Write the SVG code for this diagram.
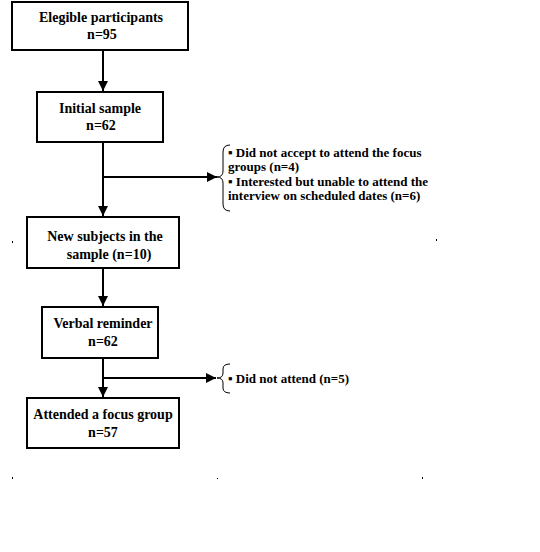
<svg xmlns="http://www.w3.org/2000/svg" width="540" height="552" viewBox="0 0 540 552">
<style>
.box{fill:#fff;stroke:#000;stroke-width:2}
.t{font-family:"Liberation Serif","Times New Roman",serif;font-weight:bold;font-size:14px;fill:#000;text-anchor:middle}
.s{font-family:"Liberation Serif","Times New Roman",serif;font-weight:bold;font-size:13px;fill:#000}
.ln{stroke:#000;stroke-width:2;fill:none}
.br{stroke:#000;stroke-width:1;fill:none}
</style>
<defs>
<marker id="ah" viewBox="0 0 10 10" refX="10" refY="5" markerWidth="5" markerHeight="5" orient="auto" markerUnits="strokeWidth">
<path d="M0,0 L10,5 L0,10 z" fill="#000"/>
</marker>
</defs>
<rect width="540" height="552" fill="#fff"/>
<g id="connectors">
<line class="ln" x1="103" y1="51" x2="103" y2="91" marker-end="url(#ah)"/>
<line class="ln" x1="103" y1="142" x2="103" y2="216" marker-end="url(#ah)"/>
<line class="ln" x1="103" y1="177" x2="217" y2="177" marker-end="url(#ah)"/>
<line class="ln" x1="103" y1="268" x2="103" y2="306" marker-end="url(#ah)"/>
<line class="ln" x1="103" y1="358" x2="103" y2="397" marker-end="url(#ah)"/>
<line class="ln" x1="103" y1="378" x2="216" y2="378" marker-end="url(#ah)"/>
</g>
<g id="n1"><rect class="box" x="12" y="2" width="176" height="48"/><text class="t" x="101" y="22">Elegible participants</text><text class="t" x="102" y="39">n=95</text></g>
<g id="n2"><rect class="box" x="37" y="92" width="126" height="50"/><text class="t" x="100" y="113">Initial sample</text><text class="t" x="101" y="130">n=62</text></g>
<g id="n3"><rect class="box" x="27" y="217" width="152" height="51"/><text class="t" x="105" y="241">New subjects in the</text><text class="t" x="109" y="259">sample (n=10)</text></g>
<g id="n4"><rect class="box" x="42" y="307" width="116" height="51"/><text class="t" x="103" y="328">Verbal reminder</text><text class="t" x="103" y="346">n=62</text></g>
<g id="n5"><rect class="box" x="27" y="398" width="152" height="50"/><text class="t" x="103" y="419">Attended a focus group</text><text class="t" x="103" y="437">n=57</text></g>
<g id="e1">
<path class="br" d="M230,145 Q223,145 223,152 L223,171 Q223,177 217,177 Q223,177 223,183 L223,204 Q223,211 230,211"/>
<text class="s" x="228" y="157">▪ Did not accept to attend the focus</text>
<text class="s" x="228" y="171">groups (n=4)</text>
<text class="s" x="228" y="186">▪ Interested but unable to attend the</text>
<text class="s" x="228" y="200">interview on scheduled dates (n=6)</text>
</g>
<g id="e2">
<path class="br" d="M230,364 Q223,364 223,369 L223,373 Q223,378 217,378 Q223,378 223,383 L223,388 Q223,393 230,393"/>
<text class="s" x="228" y="383">▪ Did not attend (n=5)</text>
</g>
<g fill="#000">
<rect x="12" y="241" width="1" height="2"/>
<rect x="436" y="239" width="1" height="2"/>
<rect x="12" y="477" width="1" height="2"/>
<rect x="217" y="478" width="1" height="1"/>
<rect x="422" y="477" width="1" height="2"/>
</g>
</svg>
